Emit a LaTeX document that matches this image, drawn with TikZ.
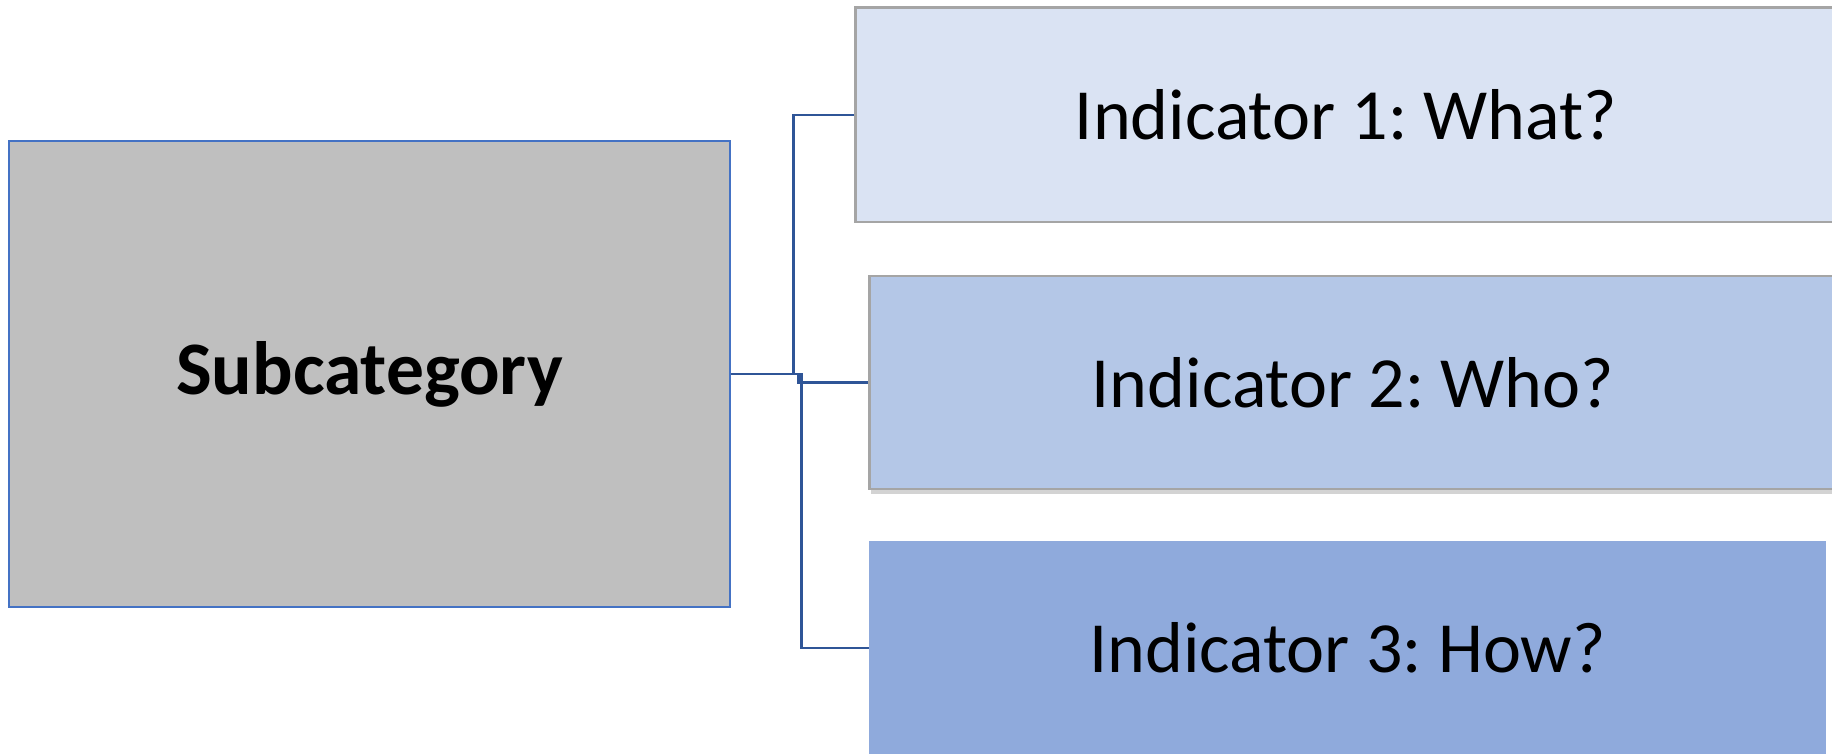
\documentclass[tikz,border=0pt]{standalone}
\usepackage{fontspec}
\setsansfont{Carlito}
\usepackage{xcolor}
\usepackage{tikz}
\usetikzlibrary{positioning,calc,shadows}
\frenchspacing

\begin{document}
\begin{tikzpicture}[
    x=1cm, y=-1cm,
    font=\sffamily\fontsize{41}{49}\selectfont,
    box/.style={rectangle, inner sep=0pt, align=center},
    subbox/.style={box, draw=subline, fill=subfill, line width=1.4pt,
                   minimum width=14.42cm, minimum height=9.32cm},
    indbox/.style={box, draw=indline, line width=1.7pt,
                   minimum height=4.28cm},
    link/.style={draw=linkcol, line width=1.5pt},
  ]
  \definecolor{subfill}{HTML}{BFBFBF}
  \definecolor{subline}{HTML}{4472C4}
  \definecolor{indline}{HTML}{A5A5A5}
  \definecolor{ind1fill}{HTML}{DAE3F3}
  \definecolor{ind2fill}{HTML}{B4C7E7}
  \definecolor{ind3fill}{HTML}{8FAADC}
  \definecolor{linkcol}{HTML}{2F5597}

  % marco de la figura
  \useasboundingbox (0,0) rectangle (36.64,15.08);

  % ========================= CAJA IZQUIERDA ==================
  \node[subbox, font=\sffamily\fontsize{43}{51}\selectfont\bfseries]
    (sub) at (7.39, 7.48) {Subcategory};

  % ========================= INDICADORES =====================
  \node[indbox, fill=ind1fill, minimum width=19.64cm] (ind1) at (26.92, 2.30)
    {Indicator 1: What?};
  \node[indbox, fill=ind2fill, minimum width=19.36cm, minimum height=4.26cm,
        drop shadow={shadow xshift=1pt, shadow yshift=-3pt, opacity=0.35}]
    (ind2) at (27.06, 7.65) {Indicator 2: Who?};
  \node[box, fill=ind3fill, minimum width=19.14cm, minimum height=4.28cm]
    (ind3) at (26.95, 12.96) {Indicator 3: How?};

  % ========================== CONECTORES =====================
  \draw[link] (sub.east) -- ++(1.24,0) |- (ind1.west);
  \draw[link] (sub.east) -- ++(1.40,0) |- (ind3.west);
  \draw[link] (ind2.west) -- ++(-1.38,0) |- (sub.east);
\end{tikzpicture}
\end{document}
